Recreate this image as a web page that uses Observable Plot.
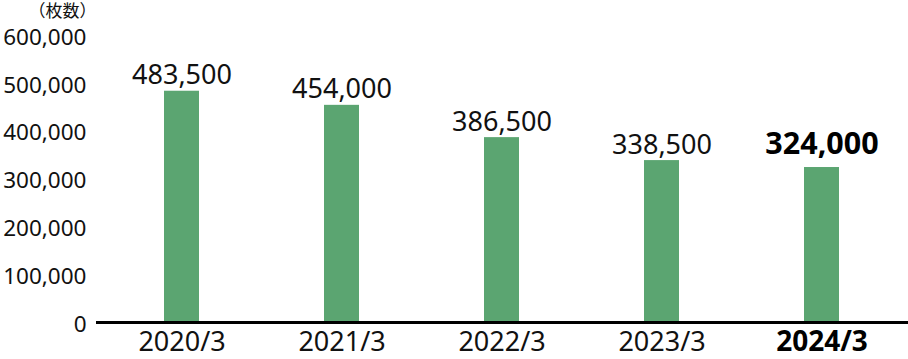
<!DOCTYPE html>
<html>
<head>
<meta charset="utf-8">
<script src="https://cdn.jsdelivr.net/npm/d3@7"></script>
<script src="https://cdn.jsdelivr.net/npm/@observablehq/plot@0.6"></script>
<style>
  html, body { margin: 0; padding: 0; background: #fff; }
  svg { display: block; }
</style>
</head>
<body>
<div id="chart"></div>
<script>
const categories = ["2020/3", "2021/3", "2022/3", "2023/3", "2024/3"];
const values = [483500, 454000, 386500, 338500, 324000];
const highlighted = [false, false, false, false, true];
const yTicks = [0, 100000, 200000, 300000, 400000, 500000, 600000];
const unitLabel = "（枚数）";

const data = categories.map((c, i) => ({ cat: c, value: values[i], bold: highlighted[i] }));
const fmt = d3.format(",");
const font = "'Noto Sans', 'Noto Sans CJK JP', sans-serif";

const chart = Plot.plot({
  width: 908,
  height: 359,
  marginLeft: 96,
  marginRight: 0,
  marginTop: 35,
  marginBottom: 37,
  style: { fontFamily: font, color: "#111", background: "#fff" },
  x: { domain: categories, paddingInner: 0.78, paddingOuter: 0.39, insetLeft: 5, insetRight: 6, axis: null },
  y: { domain: [0, 600000], ticks: yTicks, tickFormat: fmt, label: null },
  marks: [
    Plot.axisY({ ticks: yTicks, tickFormat: fmt, tickSize: 0, tickPadding: 10, fontSize: 22.5, dy: 2, label: null }),
    Plot.barY(data, { x: "cat", y: "value", fill: "#5ba571" }),
    Plot.ruleY([0], { stroke: "#000", strokeWidth: 3 }),
    Plot.text(data.filter(d => !d.bold), { x: "cat", y: "value", text: d => fmt(d.value), lineAnchor: "bottom", dy: -7, fontSize: 27, fill: "#111" }),
    Plot.text(data.filter(d => d.bold), { x: "cat", y: "value", text: d => fmt(d.value), lineAnchor: "bottom", dy: -14, fontSize: 30.5, fontWeight: "bold", fill: "#000" }),
    Plot.text(data.filter(d => !d.bold), { x: "cat", frameAnchor: "bottom", text: "cat", lineAnchor: "top", dy: 9, fontSize: 27, fill: "#111" }),
    Plot.text(data.filter(d => d.bold), { x: "cat", frameAnchor: "bottom", text: "cat", lineAnchor: "top", dy: 9, fontSize: 28, fontWeight: "bold", fill: "#000" }),
    Plot.text([unitLabel], { frameAnchor: "top-left", dx: -34, dy: -24, lineAnchor: "middle", textAnchor: "middle", fontSize: 17, fill: "#111" })
  ]
});
document.getElementById("chart").append(chart);
</script>
</body>
</html>
